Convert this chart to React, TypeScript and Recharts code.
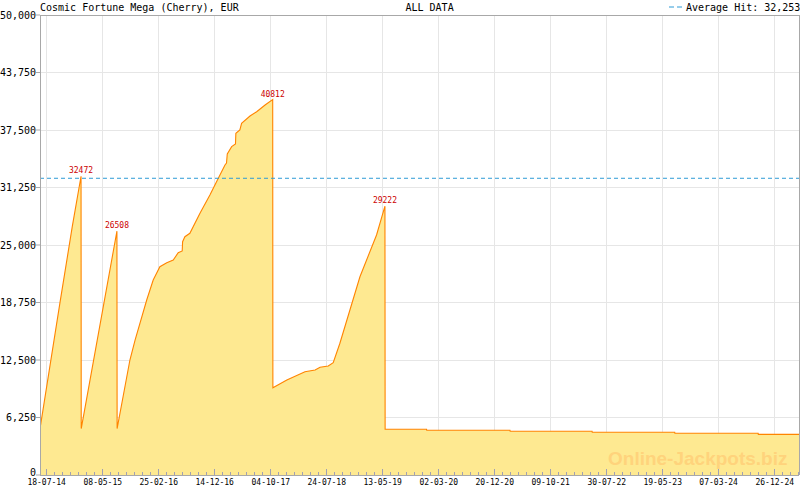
import React from 'react';
import { AreaChart, Area, XAxis, YAxis, CartesianGrid, ReferenceLine } from 'recharts';

// ---- data ----
const hitDates = [
  '2014-06-16', '2014-09-25', '2014-11-29', '2015-01-14',
  '2015-01-15', '2015-07-21',
  '2015-07-22', '2015-09-27', '2015-10-24', '2015-12-24', '2016-01-27', '2016-03-02', '2016-04-07',
  '2016-05-11', '2016-06-06', '2016-06-27', '2016-06-29', '2016-07-11', '2016-08-06', '2016-09-28',
  '2016-11-19', '2017-01-02', '2017-02-06', '2017-02-14', '2017-02-18', '2017-03-13', '2017-04-02',
  '2017-04-04', '2017-04-25', '2017-05-04', '2017-06-17', '2017-07-22', '2017-09-04', '2017-10-14',
  '2017-10-15', '2017-12-27', '2018-04-01', '2018-05-24', '2018-06-19', '2018-08-01', '2018-08-27',
  '2018-10-01', '2019-01-14', '2019-04-11', '2019-05-25',
  '2019-05-26', '2019-12-29', '2019-12-30', '2021-03-10', '2021-03-11', '2022-05-14', '2022-05-15',
  '2023-07-21', '2023-07-22', '2024-09-30', '2024-10-01', '2025-05-02',
];
const jackpotValues = [
  5430, 18660, 26990, 32472,
  5050, 26508,
  5050, 12500, 14670, 19020, 21200, 22640, 23080,
  23370, 24160, 24350, 25360, 25900, 26270, 28450,
  30440, 32250, 33700, 33910, 34890, 35690, 35980,
  37140, 37500, 38230, 39020, 39490, 40220, 40812,
  9490, 10330, 11230, 11410, 11710, 11850, 12210,
  14320, 21550, 26090, 29222,
  4970, 4970, 4860, 4860, 4750, 4750, 4640,
  4640, 4530, 4530, 4420, 4420,
];
const xTickDates = [
  '2014-07-18', '2015-05-08', '2016-02-25', '2016-12-14', '2017-10-04', '2018-07-24', '2019-05-13',
  '2020-03-02', '2020-12-20', '2021-10-09', '2022-07-30', '2023-05-19', '2024-03-07', '2024-12-26',
];
const yTicks = [0, 6250, 12500, 18750, 25000, 31250, 37500, 43750, 50000];
const averageHit = 32253;
const xDomainDates = ['2014-06-13', '2025-05-02'];

const titleText = 'Cosmic Fortune Mega (Cherry), EUR';
const periodText = 'ALL DATA';
const legendText = 'Average Hit: 32,253';
const watermarkText = 'Online-Jackpots.biz';

// ---- derived ----
const toTs = (s: string) => {
  const [y, m, d] = s.split('-').map(Number);
  return Date.UTC(y, m - 1, d);
};
const data = hitDates.map((d, i) => ({ t: toTs(d), v: jackpotValues[i] }));
const isPeak = jackpotValues.map(
  (v, i) => i > 0 && i < jackpotValues.length - 1 && v > jackpotValues[i - 1] && v > jackpotValues[i + 1]
);
const domainStart = toTs(xDomainDates[0]);
const domainEnd = toTs(xDomainDates[1]);
const majorTs = xTickDates.map(toTs);
const majorSet = new Set(majorTs);
const allTicks: number[] = (() => {
  const out: number[] = [];
  const firstStep = (majorTs[1] - majorTs[0]) / 7;
  for (let k = 6; k >= 1; k--) {
    const t = majorTs[0] - firstStep * k;
    if (t >= domainStart) out.push(t);
  }
  for (let i = 0; i < majorTs.length; i++) {
    out.push(majorTs[i]);
    if (i < majorTs.length - 1) {
      const step = (majorTs[i + 1] - majorTs[i]) / 7;
      for (let k = 1; k < 7; k++) out.push(majorTs[i] + step * k);
    }
  }
  const last = majorTs[majorTs.length - 1];
  const lastStep = (last - majorTs[majorTs.length - 2]) / 7;
  for (let k = 1; k < 7; k++) {
    const t = last + lastStep * k;
    if (t <= domainEnd) out.push(t);
  }
  return out;
})();

const pad = (n: number) => (n < 10 ? '0' + n : '' + n);
const fmtDate = (t: number) => {
  const d = new Date(t);
  return `${pad(d.getUTCDate())}-${pad(d.getUTCMonth() + 1)}-${pad(d.getUTCFullYear() % 100)}`;
};

const MONO = '"DejaVu Sans Mono", monospace';
const AXIS = '#A8A8A8';
const TICK = '#A0A0B4';
const GRID = '#E6E6E6';

const XTick = (props: any) => {
  const { x, y, payload } = props;
  const major = majorSet.has(payload.value);
  return (
    <g>
      <line x1={x} x2={x} y1={y} y2={y - (major ? 6 : 3)} stroke={TICK} shapeRendering="crispEdges" />
      {major && (
        <text x={x} y={y + 9.5} textAnchor="middle" fontSize={8} fontFamily={MONO} fill="#000">
          {fmtDate(payload.value)}
        </text>
      )}
    </g>
  );
};

const YTick = (props: any) => {
  const { x, y, payload } = props;
  const lift = payload.value === 0 ? 2.5 : 0;
  return (
    <text x={x} y={y - lift} dy="0.355em" textAnchor="end" fontSize={10} fontFamily={MONO} fill="#000">
      {Number(payload.value).toLocaleString('en-US')}
    </text>
  );
};

const PeakLabel = (props: any) => {
  const { x, y, value, index } = props;
  if (index == null || !isPeak[index]) return null;
  return (
    <text x={x} y={y - 3} textAnchor="middle" fontSize={8} fontFamily={MONO} fill="#CC0000">
      {String(value)}
    </text>
  );
};

export default function App() {
  return (
    <div style={{ position: 'absolute', left: 0, top: 0, width: 800, height: 490, background: '#fff' }}>
      <AreaChart width={800} height={490} data={data} margin={{ top: 15, right: 1, bottom: 0, left: 0 }}>
        <CartesianGrid stroke={GRID} shapeRendering="crispEdges" verticalValues={majorTs} />
        <XAxis
          dataKey="t"
          type="number"
          domain={[domainStart, domainEnd]}
          allowDataOverflow
          ticks={allTicks}
          interval={0}
          height={15}
          tickSize={0}
          tickMargin={0}
          tickLine={false}
          axisLine={{ stroke: AXIS, shapeRendering: 'crispEdges' }}
          tick={<XTick />}
        />
        <YAxis
          type="number"
          domain={[0, 50000]}
          allowDataOverflow
          ticks={yTicks}
          interval={0}
          width={40}
          tickSize={4}
          tickMargin={0}
          axisLine={{ stroke: AXIS, shapeRendering: 'crispEdges' }}
          tickLine={{ stroke: AXIS }}
          tick={<YTick />}
        />
        <Area
          type="linear"
          dataKey="v"
          stroke="#FF8400"
          strokeWidth={1.1}
          fill="#FEE991"
          fillOpacity={1}
          dot={false}
          activeDot={false}
          isAnimationActive={false}
          label={<PeakLabel />}
        />
        <ReferenceLine y={averageHit} stroke="#2E9BD6" strokeDasharray="4 3" />
        <ReferenceLine y={50000} stroke={AXIS} shapeRendering="crispEdges" />
        <ReferenceLine x={domainEnd} stroke={AXIS} shapeRendering="crispEdges" />
      </AreaChart>
      <svg
        width={800}
        height={490}
        style={{ position: 'absolute', left: 0, top: 0, pointerEvents: 'none' }}
      >
        <text x={40} y={11} fontSize={10} fontFamily={MONO} fill="#000">{titleText}</text>
        <text x={405.5} y={11} fontSize={10} fontFamily={MONO} fill="#000">{periodText}</text>
        <line x1={669} x2={682} y1={7} y2={7} stroke="#2E9BD6" strokeDasharray="5 3" />
        <text x={686} y={11} fontSize={10} fontFamily={MONO} fill="#000">{legendText}</text>
        <text
          x={608}
          y={465}
          fontSize={19}
          fontWeight="bold"
          fontFamily='"Liberation Sans", Arial, sans-serif'
          fill="#FFD37C"
        >
          {watermarkText}
        </text>
      </svg>
    </div>
  );
}
